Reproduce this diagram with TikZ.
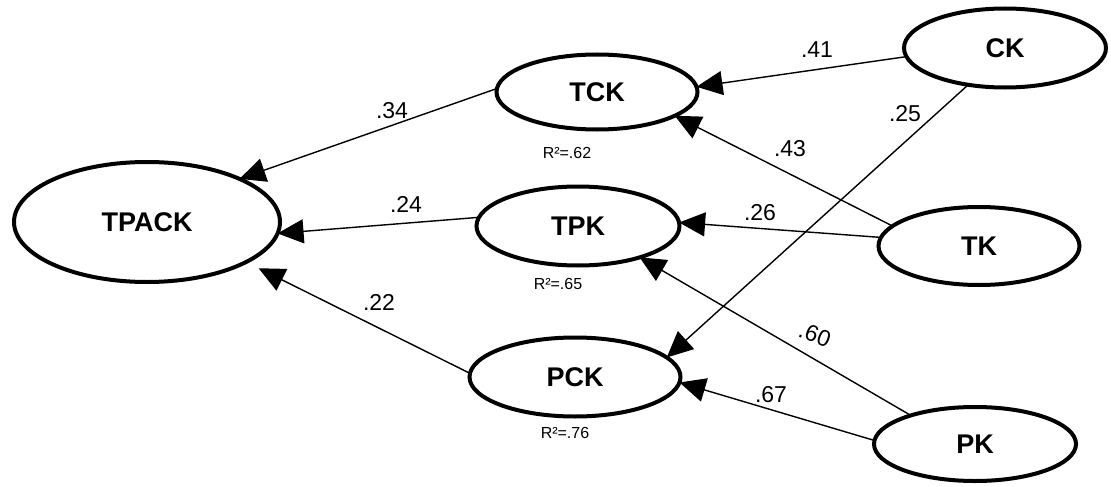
\documentclass[tikz,border=0pt]{standalone}
\usepackage{fontspec}
\setmainfont{Liberation Sans}
\usetikzlibrary{shapes.geometric,arrows.meta}
\begin{document}
\begin{tikzpicture}[x=1pt,y=-1pt,
  lv/.style={ellipse,draw,line width=4pt,inner sep=0pt,outer sep=0pt,
    font=\fontsize{27}{32}\selectfont\bfseries},
  pathline/.style={line width=1.4pt,-{Triangle[length=26pt,width=24pt]}},
  coef/.style={font=\fontsize{23}{27}\selectfont,inner sep=0pt},
  rsq/.style={font=\fontsize{16}{19}\selectfont,inner sep=0pt}]
\useasboundingbox[fill=white] (0,0) rectangle (1111,487);

\node[lv,minimum width=266pt,minimum height=120pt] (TPACK) at (147,222) {TPACK};
\node[lv,minimum width=201pt,minimum height=75pt] (TCK) at (597,92) {TCK};
\node[lv,minimum width=203pt,minimum height=79pt] (TPK) at (578,226) {TPK};
\node[lv,minimum width=211pt,minimum height=79pt] (PCK) at (575,377) {PCK};
\node[lv,minimum width=202pt,minimum height=79pt] (CK) at (1005,48) {CK};
\node[lv,minimum width=201pt,minimum height=78pt] (TK) at (979,246) {TK};
\node[lv,minimum width=202pt,minimum height=74pt] (PK) at (975,444) {PK};

\node[rsq] (r1) at (567,153) {R²=.62};
\node[rsq] (r2) at (558,284) {R²=.65};
\node[rsq] (r3) at (565,433) {R²=.76};

\draw[pathline] (TCK.178) -- (TPACK.25);
\draw[pathline] (TPK.175) -- (TPACK.-5);
\draw[pathline,shorten >=14pt] (PCK.178) -- (TPACK.-22);
\draw[pathline] (CK.185) -- (TCK.3);
\draw[pathline] (TK.167) -- (TCK.-17);
\draw[pathline] (CK.225) -- (PCK.12);
\draw[pathline] (TK.175) -- (TPK.2);
\draw[pathline] (PK.156) -- (TPK.-27);
\draw[pathline] (PK.178) -- (PCK.-3);

\node[coef] (c34) at (392,111) {.34};
\node[coef] (c24) at (406,204) {.24};
\node[coef] (c22) at (379,302) {.22};
\node[coef] (c41) at (817,50) {.41};
\node[coef] (c43) at (790,149) {.43};
\node[coef] (c25) at (905,114) {.25};
\node[coef] (c26) at (760,213) {.26};
\node[coef,rotate=-21] (c60) at (815,335) {.60};
\node[coef] (c67) at (771,395) {.67};
\end{tikzpicture}
\end{document}
